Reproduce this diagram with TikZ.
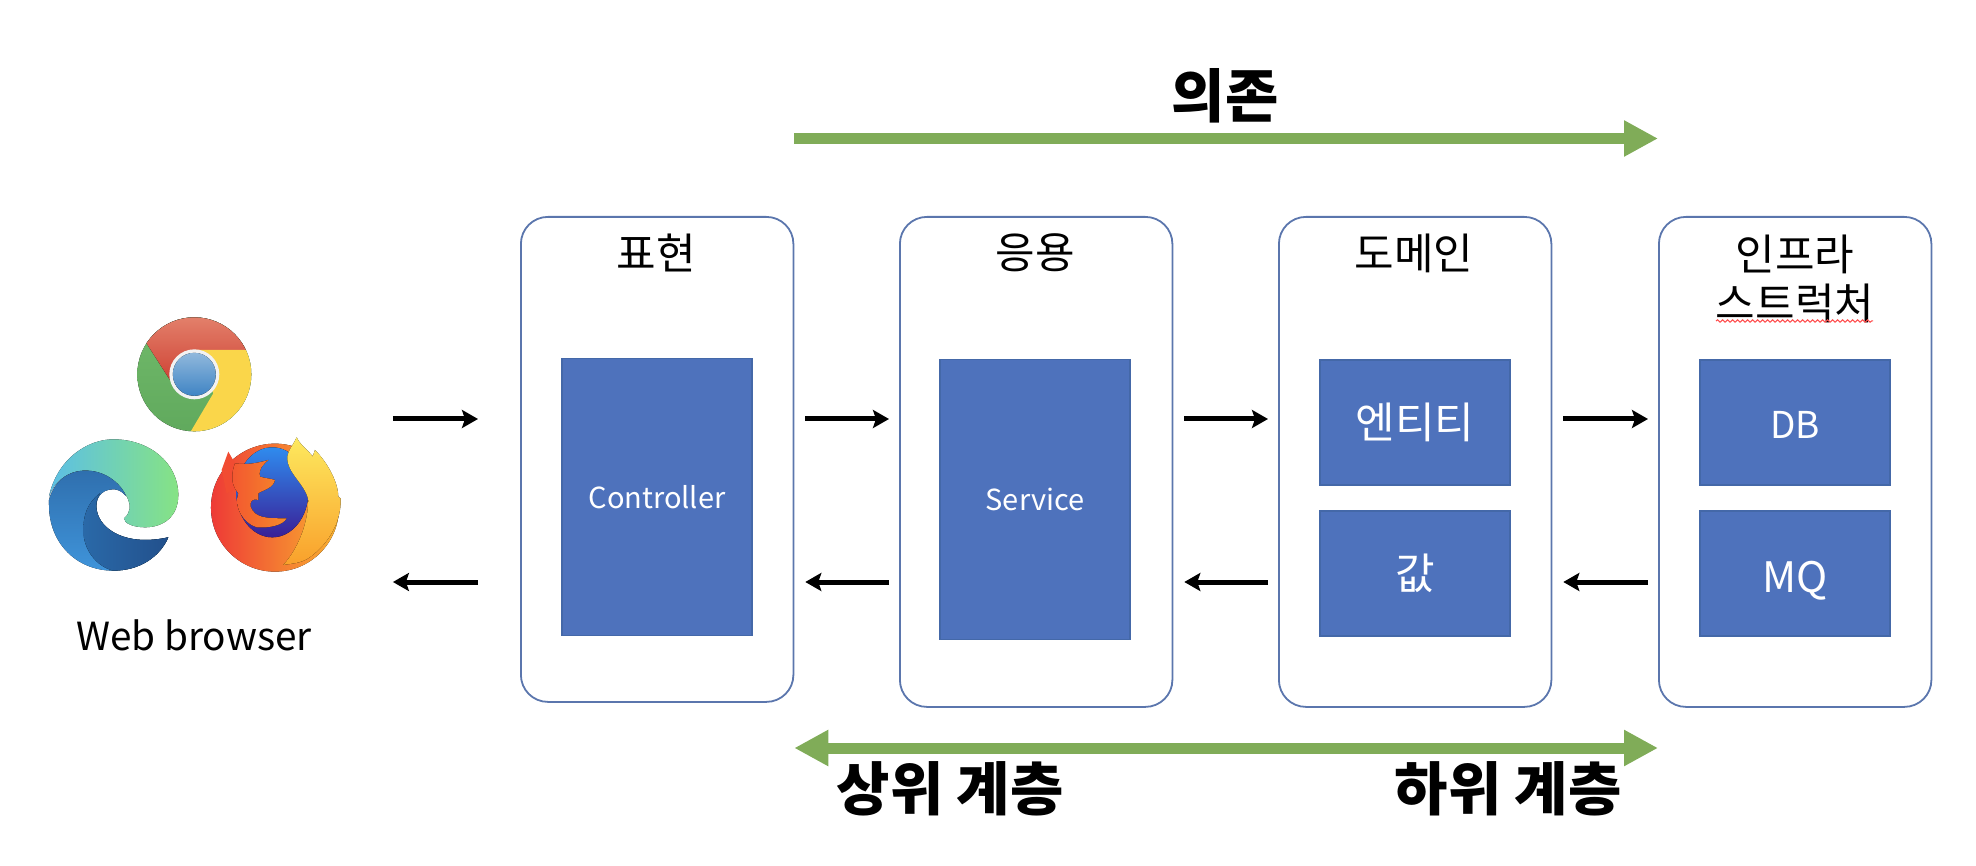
\documentclass[tikz,border=0pt]{standalone}
\usepackage{fontspec}
\setmainfont{Noto Sans CJK KR}
\usepackage{tikz}
\usetikzlibrary{arrows.meta,decorations.pathmorphing}
\definecolor{layerline}{HTML}{5B76AD}
\definecolor{partfill}{HTML}{4E72BC}
\definecolor{partline}{HTML}{4468A8}
\definecolor{depgreen}{HTML}{80AC58}
\definecolor{chromegreen}{HTML}{72BB6B}
\definecolor{chromegreend}{HTML}{5FA85C}
\definecolor{chromereda}{HTML}{E58670}
\definecolor{chromeredb}{HTML}{CF4436}
\definecolor{chromeyellow}{HTML}{FAD64A}
\definecolor{chromebluea}{HTML}{90B8DC}
\definecolor{chromeblueb}{HTML}{3F84C4}
\definecolor{edgecyan}{HTML}{5CBFE6}
\definecolor{edgeteal}{HTML}{5EC0C4}
\definecolor{edgegreen}{HTML}{86E384}
\definecolor{edgebluea}{HTML}{2F6FAE}
\definecolor{edgeblueb}{HTML}{3F94DA}
\definecolor{edgedarka}{HTML}{2A69A8}
\definecolor{edgedarkb}{HTML}{22508C}
\definecolor{foxred}{HTML}{EE3A36}
\definecolor{foxmid}{HTML}{F5682C}
\definecolor{foxright}{HTML}{F9B22F}
\definecolor{foxblue}{HTML}{2F8BEE}
\definecolor{foxnavy}{HTML}{3A1F96}
\definecolor{foxhead}{HTML}{F58A2A}
\definecolor{foxtaila}{HTML}{FDE95E}
\definecolor{foxtailb}{HTML}{F9A02B}
\newcommand{\fsz}[1]{\fontsize{#1}{#1}\selectfont}
\tikzset{
	layer/.style={draw=layerline, line width=1.8pt, rounded corners=27pt, minimum width=272.5pt, anchor=north west, inner sep=0pt},
	part/.style={draw=partline, line width=1.2pt, fill=partfill, text=white, minimum width=190pt, inner sep=0pt, font=\fsz{43}},
	layertitle/.style={align=center, inner sep=0pt, font=\fsz{43}},
	bigtext/.style={inner sep=0pt, font=\fsz{58}\bfseries},
	flow/.style={line width=5pt, -{Stealth[length=16pt,width=18pt,inset=3pt]}},
	dep/.style={draw=depgreen, line width=11pt, -{Triangle[length=34pt,width=34pt]}},
	depboth/.style={draw=depgreen, line width=11pt, {Triangle[length=34pt,width=34pt]}-{Triangle[length=34pt,width=34pt]}}
}
\begin{document}
\begin{tikzpicture}[x=1pt,y=-1pt]
	\useasboundingbox (0,0) rectangle (1976,866);

	\node[layer, minimum height=485pt] (present) at (520,216) {};
	\node[layer, minimum height=490pt] (apply) at (899,216) {};
	\node[layer, minimum height=490pt] (domain) at (1278,216) {};
	\node[layer, minimum height=490pt] (infra) at (1658,216) {};

	\node[layertitle] (tpresent) at (656,253) {표현};
	\node[layertitle] (tapply) at (1035,253) {응용};
	\node[layertitle] (tdomain) at (1414,253) {도메인};
	\node[layertitle, text depth=0pt] (tinfra) at (1795,277) {인프라\\[6pt]스트럭처};
	\draw[red!70, line width=1pt, decorate, decoration={snake, segment length=5pt, amplitude=1.2pt}] (1716,321) -- (1873,321);

	\node[part, minimum height=277pt, font=\fsz{29}] (controller) at (657,497) {Controller};
	\node[part, minimum height=280pt, font=\fsz{29}] (service) at (1035,499.5) {Service};
	\node[part, minimum height=125pt] (entity) at (1415,422.5) {엔티티};
	\node[part, minimum height=125pt] (value) at (1415,573.5) {값};
	\node[part, minimum height=125pt, font=\fsz{37}, text height=32pt, text depth=0pt] (db) at (1795,422.5) {DB};
	\node[part, minimum height=125pt, font=\fsz{42}, text height=37pt, text depth=0pt] (mq) at (1795,573.5) {MQ};

	\node[inner sep=0pt, font=\fsz{38.7}] (browser) at (194,635) {Web browser};

	\coordinate (rowreq) at (0,419);
	\coordinate (rowres) at (0,582);
	\draw[flow] ([xshift=81pt]browser.east |- rowreq) -- ([xshift=-42pt]present.west |- rowreq);
	\draw[flow] ([xshift=-42pt]present.west |- rowres) -- ([xshift=81pt]browser.east |- rowres);
	\foreach \left/\right in {present/apply, apply/domain, domain/infra} {
		\draw[flow] ([xshift=11pt]\left.east |- rowreq) -- ([xshift=-10pt]\right.west |- rowreq);
		\draw[flow] ([xshift=-10pt]\right.west |- rowres) -- ([xshift=11pt]\left.east |- rowres);
	}

	\coordinate (rowdep) at (0,138.5);
	\coordinate (rowlevel) at (0,748);
	\draw[dep] (present.east |- rowdep) -- (infra.west |- rowdep);
	\draw[depboth] (present.east |- rowlevel) -- (infra.west |- rowlevel);

	\node[bigtext] (depend) at (1225,96) {의존};
	\node[bigtext] (upper) at (950,789) {상위 계층};
	\node[bigtext] (lower) at (1508,789) {하위 계층};

	% chrome
	\begin{scope}[x=0.3333pt,y=-0.3333pt,yshift=-280pt]
		\begin{scope}
			\clip (583,283) circle [radius=57pt];
			\fill[top color=chromegreen, bottom color=chromegreend] (395,90) rectangle (770,482);
			\fill[top color=chromereda, bottom color=chromeredb] (510,300) -- (395,120) -- (395,90) -- (770,90) -- (770,210) -- (583,210) -- cycle;
			\fill[chromeyellow] (583,210) -- (770,210) -- (770,482) -- (556,482) -- (640,340) -- cycle;
		\end{scope}
		\fill[white!95!black] (583,283) circle [radius=25pt];
		\fill[top color=chromebluea, bottom color=chromeblueb] (583,283) circle [radius=21.5pt];
	\end{scope}

	% edge
	\begin{scope}[x=0.3333pt,y=-0.3333pt,yshift=-280pt]
		\fill[left color=edgecyan, middle color=edgeteal, right color=edgegreen] (147,650) .. controls (170,540) and (260,478) .. (340,478) .. controls (450,478) and (535,550) .. (535,645) .. controls (535,710) and (490,742) .. (435,742) .. controls (400,742) and (372,730) .. (372,715) .. controls (392,700) and (392,675) .. (385,660) .. controls (370,620) and (320,575) .. (260,572) .. controls (200,570) and (160,610) .. (147,650) -- cycle;
		\fill[top color=edgebluea, bottom color=edgeblueb] (147,660) .. controls (160,610) and (200,570) .. (260,572) .. controls (310,572) and (360,605) .. (378,648) .. controls (365,632) and (350,628) .. (340,628) .. controls (300,628) and (285,660) .. (290,690) .. controls (300,750) and (380,800) .. (505,772) .. controls (480,830) and (420,872) .. (340,872) .. controls (230,872) and (147,790) .. (147,675) -- cycle;
		\fill[left color=edgedarka, right color=edgedarkb] (300,640) .. controls (260,670) and (250,710) .. (250,750) .. controls (250,810) and (290,860) .. (340,872) .. controls (420,872) and (480,830) .. (505,772) .. controls (380,800) and (300,750) .. (290,690) .. controls (287,670) and (290,655) .. (300,640) -- cycle;
	\end{scope}

	% firefox
	\begin{scope}[x=0.3333pt,y=-0.3333pt,yshift=-280pt]
		\fill[left color=foxred, middle color=foxmid, right color=foxright] (825,683) circle [radius=64pt];
		\fill[foxred!60!foxmid] (665,570) -- (685,515) -- (705,550) -- (760,600) -- (680,640) -- cycle;
		\fill[top color=foxblue, bottom color=foxnavy] (817,637) ellipse [x radius=36pt, y radius=45pt];
		\fill[left color=foxred!40!foxmid, right color=foxhead] (705,550) .. controls (740,555) and (770,550) .. (805,540) .. controls (790,555) and (775,565) .. (780,590) .. controls (795,595) and (810,595) .. (825,600) .. controls (820,625) and (790,630) .. (775,640) -- (775,660) .. controls (755,655) and (750,665) .. (752,680) .. controls (765,715) and (800,715) .. (860,715) .. controls (850,735) and (810,745) .. (770,742) .. controls (730,730) and (700,680) .. (715,640) .. controls (690,610) and (695,580) .. (705,550) -- cycle;
		\fill[top color=foxtaila, bottom color=foxtailb] (890,472) .. controls (900,495) and (925,510) .. (938,530) -- (945,510) .. controls (985,550) and (1015,610) .. (1015,650) -- (1022,655) .. controls (1025,720) and (990,790) .. (925,835) .. controls (900,850) and (880,850) .. (850,855) .. controls (900,800) and (925,720) .. (925,660) .. controls (915,610) and (860,580) .. (862,530) .. controls (865,510) and (880,495) .. (890,472) -- cycle;
	\end{scope}
\end{tikzpicture}
\end{document}
